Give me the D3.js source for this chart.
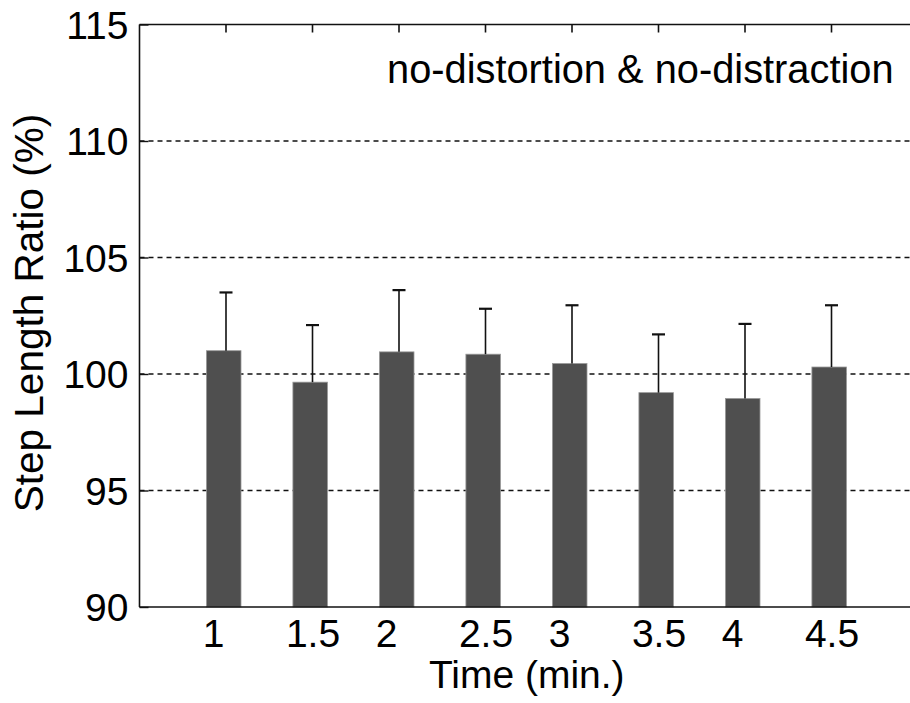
<!DOCTYPE html>
<html lang="en">
<head>
<meta charset="UTF-8">
<title>Step length ratio</title>
<style>
body { margin: 0; background: #fff; }
svg { display: block; font-family: "Liberation Sans", Arial, sans-serif; }
.axis .domain { display: none; }
</style>
</head>
<body>
<svg width="910" height="703"></svg>
<script src="https://d3js.org/d3.v7.min.js"></script>
<script>

// time points (min.) and the bar values
var timeLabels = ["1", "1.5", "2", "2.5", "3", "3.5", "4", "4.5"];
var meanRatio  = [101.0, 99.65, 100.95, 100.85, 100.45, 99.2, 98.95, 100.3];
var sdRatio    = [2.5, 2.45, 2.65, 1.95, 2.5, 2.5, 3.2, 2.65];
var yTicks     = [90, 95, 100, 105, 110, 115];
var gridTicks  = [95, 100, 105, 110];

// note: "top" is a read-only window global, so use other names
var svg = d3.select("svg"),
    plotL = 139.5, plotR = 918, plotT = 24.5, plotB = 607;

var x = d3.scaleLinear().domain([0, timeLabels.length + 1]).range([plotL, plotR]);
var y = d3.scaleLinear().domain([90, 115]).range([plotB, plotT]);

var step = x(1) - x(0),
    barW = step * 0.4;

// dashed grid
svg.append("g")
  .selectAll("line")
  .data(gridTicks)
  .enter().append("line")
    .attr("x1", plotL).attr("x2", plotR)
    .attr("y1", function(d) { return y(d); })
    .attr("y2", function(d) { return y(d); })
    .attr("stroke", "#111")
    .attr("stroke-width", 1.3)
    .attr("stroke-dasharray", "5,4");

var data = timeLabels.map(function(t, i) {
  return {i: i + 1, label: t, mean: meanRatio[i], sd: sdRatio[i]};
});

// bars
svg.append("g")
  .selectAll("rect")
  .data(data)
  .enter().append("rect")
    .attr("x", function(d) { return x(d.i) - 2.3 - barW / 2; })
    .attr("y", function(d) { return y(d.mean); })
    .attr("width", barW)
    .attr("height", function(d) { return plotB - y(d.mean); })
    .attr("fill", "#4f4f4f")
    .attr("stroke", "#9a9a9a")
    .attr("stroke-width", 0.8);

// error bars (upper only)
var err = svg.append("g").attr("stroke", "#111").attr("stroke-width", 1.6);
err.selectAll(".stem")
  .data(data)
  .enter().append("line")
    .attr("class", "stem")
    .attr("x1", function(d) { return x(d.i); })
    .attr("x2", function(d) { return x(d.i); })
    .attr("y1", function(d) { return y(d.mean); })
    .attr("y2", function(d) { return y(d.mean + d.sd); });
err.selectAll(".cap")
  .data(data)
  .enter().append("line")
    .attr("class", "cap")
    .attr("x1", function(d) { return x(d.i) - 6.5; })
    .attr("x2", function(d) { return x(d.i) + 6.5; })
    .attr("y1", function(d) { return y(d.mean + d.sd); })
    .attr("y2", function(d) { return y(d.mean + d.sd); })
    .attr("stroke-width", 2.2);

// frame lines
var frame = svg.append("g").attr("stroke", "#111").attr("stroke-width", 1.6);
frame.append("line").attr("x1", plotL).attr("x2", plotL).attr("y1", plotT).attr("y2", plotB);
frame.append("line").attr("x1", plotL).attr("x2", plotR).attr("y1", plotT).attr("y2", plotT);
frame.append("line").attr("x1", plotL).attr("x2", plotR).attr("y1", plotB).attr("y2", plotB);

// top ticks
frame.selectAll(".ttick")
  .data(data)
  .enter().append("line")
    .attr("x1", function(d) { return x(d.i); })
    .attr("x2", function(d) { return x(d.i); })
    .attr("y1", plotT).attr("y2", plotT + 8);

// left axis, ticks pointing inward
var yAxis = svg.append("g")
    .attr("class", "axis")
    .attr("transform", "translate(" + plotL + ",0)")
    .call(d3.axisRight(y).tickValues(yTicks).tickSize(9).tickFormat(""));
yAxis.selectAll("line").attr("stroke", "#111").attr("stroke-width", 1.4);

svg.append("g")
  .selectAll("text")
  .data(yTicks)
  .enter().append("text")
    .attr("x", plotL - 11)
    .attr("y", function(d) { return y(d); })
    .attr("dy", "0.36em")
    .attr("text-anchor", "end")
    .attr("font-size", 39)
    .attr("fill", "#000")
    .text(function(d) { return d; });

// bottom tick labels
var xAxis = svg.append("g")
    .attr("class", "axis")
    .attr("transform", "translate(0," + plotB + ")")
    .call(d3.axisBottom(x)
      .tickValues(data.map(function(d) { return d.i; }))
      .tickSize(0)
      .tickPadding(12)
      .tickFormat(function(v) { return timeLabels[v - 1]; }));
xAxis.selectAll("text")
    .attr("font-size", 39)
    .attr("font-family", "Liberation Sans, Arial, sans-serif")
    .attr("fill", "#000")
    .attr("dy", "0.72em")
    .attr("dx", function(v) { return timeLabels[v - 1].indexOf(".") < 0 ? "-0.33em" : 0; });

// axis titles
svg.append("text")
    .attr("x", (plotL + plotR) / 2 - 2)
    .attr("y", 688)
    .attr("text-anchor", "middle")
    .attr("font-size", 39)
    .text("Time (min.)");

svg.append("text")
    .attr("transform", "translate(43," + 313 + ") rotate(-90)")
    .attr("text-anchor", "middle")
    .attr("font-size", 40.5)
    .text("Step Length Ratio (%)");

// condition label
svg.append("text")
    .attr("x", 387)
    .attr("y", 83)
    .attr("font-size", 39.8)
    .text("no-distortion & no-distraction");

</script>
</body>
</html>
